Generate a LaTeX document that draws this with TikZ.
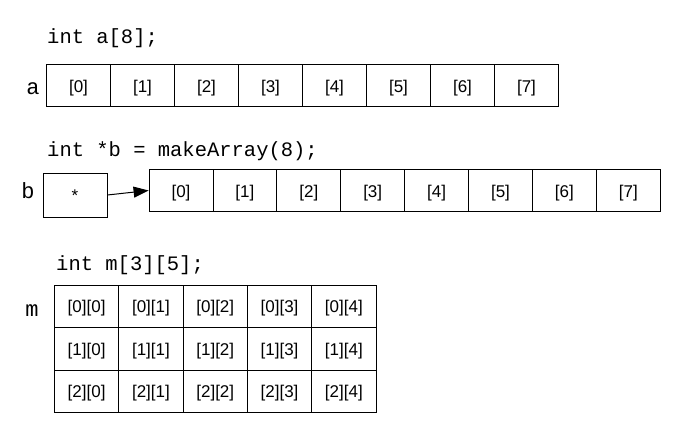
\documentclass[tikz,border=0pt]{standalone}
\usepackage{fontspec}
\setmainfont{Liberation Sans}
\newfontfamily\codefont{Liberation Mono}
\usetikzlibrary{arrows.meta}
\begin{document}
\begin{tikzpicture}[x=1pt,y=-1pt,
  cell/.style={draw,line width=0.9pt,inner sep=0pt,minimum width=64pt,minimum height=42pt,text height=13.5pt,text depth=0pt,font=\fontsize{17}{17}\selectfont},
  bcell/.style={cell,minimum width=63.9pt,minimum height=42.5pt},
  mcell/.style={cell,minimum width=64.3pt,minimum height=42.5pt},
  code/.style={inner sep=0pt,anchor=west,font=\fontsize{20.5}{20.5}\codefont},
  var/.style={inner sep=0pt,font=\fontsize{22}{22}\codefont}]
\useasboundingbox (0,0) rectangle (678,430);
% array a
\node[code] (ta) at (47,38) {int a[8];};
\node[var] (la) at (33,89) {a};
\foreach \i in {0,...,7} {
  \node[cell] (a\i) at ({78.5+64*\i},85.5) {[\i]};
}
% pointer b
\node[code] (tb) at (47,151) {int *b = makeArray(8);};
\node[var] (lb) at (28,191) {b};
\node[cell,minimum height=44pt] (pb) at (75,195) {*};
\foreach \i in {0,...,7} {
  \node[bcell] (b\i) at ({181+63.9*\i},190.5) {[\i]};
}
\draw[line width=1pt,-{Triangle[length=15pt,width=11pt]}] (pb.east) -- (b0.west);
% matrix m
\node[code] (tm) at (56,265) {int m[3][5];};
\node[var] (lm) at (32,311) {m};
\foreach \r in {0,1,2} {
  \foreach \c in {0,...,4} {
    \node[mcell] (m\r\c) at ({86.65+64.3*\c},{306.25+42.5*\r}) {[\r][\c]};
  }
}
\end{tikzpicture}
\end{document}
